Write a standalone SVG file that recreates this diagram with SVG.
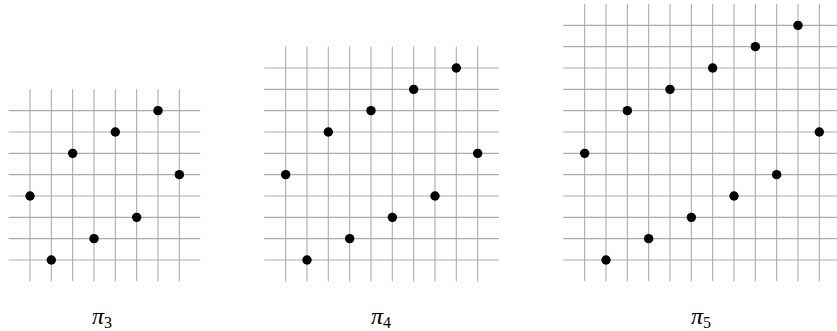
<svg xmlns="http://www.w3.org/2000/svg" width="837" height="331" viewBox="0 0 837 331">
<style>
.grid{stroke:#ababab;stroke-width:1.1;fill:none}
.dot{fill:#000}
.lbl{font-family:"Liberation Serif",serif;font-size:24px;fill:#000}
.lbl .pi{font-style:italic}
.lbl .sub{font-size:16px}
</style>
<rect width="837" height="331" fill="#fff"/>
<g id="pi3">
<path class="grid" d="M8.67 110.67H200.33M8.67 132H200.33M8.67 153.33H200.33M8.67 174.67H200.33M8.67 196H200.33M8.67 217.33H200.33M8.67 238.67H200.33M8.67 260H200.33M30 89.33V281.33M51.33 89.33V281.33M72.67 89.33V281.33M94 89.33V281.33M115.33 89.33V281.33M136.67 89.33V281.33M158 89.33V281.33M179.33 89.33V281.33"/>
<g class="dot">
<circle cx="30" cy="196" r="4.7"/><circle cx="51.33" cy="260" r="4.7"/><circle cx="72.67" cy="153.33" r="4.7"/><circle cx="94" cy="238.67" r="4.7"/><circle cx="115.33" cy="132" r="4.7"/><circle cx="136.67" cy="217.33" r="4.7"/><circle cx="158" cy="110.67" r="4.7"/><circle cx="179.33" cy="174.67" r="4.7"/>
</g>
<text class="lbl" x="92" y="324"><tspan class="pi">π</tspan><tspan class="sub" dy="4">3</tspan></text>
</g>
<g id="pi4">
<path class="grid" d="M264.33 68H499M264.33 89.33H499M264.33 110.67H499M264.33 132H499M264.33 153.33H499M264.33 174.67H499M264.33 196H499M264.33 217.33H499M264.33 238.67H499M264.33 260H499M285.67 46.67V281.33M307 46.67V281.33M328.33 46.67V281.33M349.67 46.67V281.33M371 46.67V281.33M392.33 46.67V281.33M413.67 46.67V281.33M435 46.67V281.33M456.33 46.67V281.33M477.67 46.67V281.33"/>
<g class="dot">
<circle cx="285.67" cy="174.67" r="4.7"/><circle cx="307" cy="260" r="4.7"/><circle cx="328.33" cy="132" r="4.7"/><circle cx="349.67" cy="238.67" r="4.7"/><circle cx="371" cy="110.67" r="4.7"/><circle cx="392.33" cy="217.33" r="4.7"/><circle cx="413.67" cy="89.33" r="4.7"/><circle cx="435" cy="196" r="4.7"/><circle cx="456.33" cy="68" r="4.7"/><circle cx="477.67" cy="153.33" r="4.7"/>
</g>
<text class="lbl" x="371" y="324"><tspan class="pi">π</tspan><tspan class="sub" dy="4">4</tspan></text>
</g>
<g id="pi5">
<path class="grid" d="M563.33 25.33H840.67M563.33 46.67H840.67M563.33 68H840.67M563.33 89.33H840.67M563.33 110.67H840.67M563.33 132H840.67M563.33 153.33H840.67M563.33 174.67H840.67M563.33 196H840.67M563.33 217.33H840.67M563.33 238.67H840.67M563.33 260H840.67M584.67 4V281.33M606 4V281.33M627.33 4V281.33M648.67 4V281.33M670 4V281.33M691.33 4V281.33M712.67 4V281.33M734 4V281.33M755.33 4V281.33M776.67 4V281.33M798 4V281.33M819.33 4V281.33"/>
<g class="dot">
<circle cx="584.67" cy="153.33" r="4.7"/><circle cx="606" cy="260" r="4.7"/><circle cx="627.33" cy="110.67" r="4.7"/><circle cx="648.67" cy="238.67" r="4.7"/><circle cx="670" cy="89.33" r="4.7"/><circle cx="691.33" cy="217.33" r="4.7"/><circle cx="712.67" cy="68" r="4.7"/><circle cx="734" cy="196" r="4.7"/><circle cx="755.33" cy="46.67" r="4.7"/><circle cx="776.67" cy="174.67" r="4.7"/><circle cx="798" cy="25.33" r="4.7"/><circle cx="819.33" cy="132" r="4.7"/>
</g>
<text class="lbl" x="691" y="324"><tspan class="pi">π</tspan><tspan class="sub" dy="4">5</tspan></text>
</g>
</svg>
